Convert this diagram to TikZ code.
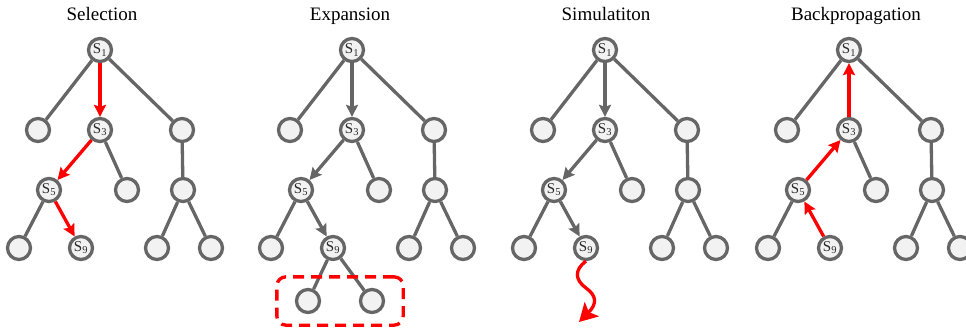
\documentclass[tikz,border=0pt]{standalone}
\usepackage{fontspec}
\setmainfont{Liberation Serif}
\usetikzlibrary{arrows.meta,fit}

\definecolor{edgegray}{HTML}{666666}
\definecolor{nodefill}{HTML}{F2F2F2}
\definecolor{labeltext}{HTML}{2A2A2A}
\definecolor{pathred}{HTML}{FF0000}

\tikzset{
  state/.style={circle, draw=edgegray, fill=nodefill, line width=3.3pt,
    minimum size=23pt, inner sep=0pt, text=labeltext,
    font=\fontsize{15}{15}\selectfont},
  edge/.style={draw=edgegray, line width=3.3pt},
  grayarrow/.style={edge, -{Stealth[length=12pt,width=12pt,inset=2pt]}},
  redarrow/.style={draw=pathred, line width=3.3pt,
    -{Stealth[length=12pt,width=12pt,inset=2pt]}},
  paneltitle/.style={anchor=base, text=black, font=\fontsize{19}{22}\selectfont},
  expandbox/.style={draw=pathred, line width=3.3pt, dash pattern=on 11pt off 7pt,
    rounded corners=9pt, inner xsep=18pt, inner ysep=11pt}
}

% One search tree; #1 = name prefix, #2 = x of the root
\newcommand{\mctstree}[2]{%
  \node[state] (#1r)  at (#2,50)      {S\textsubscript{1}};
  \node[state] (#1a)  at ({#2-62},130) {};
  \node[state] (#1s3) at (#2,130)     {S\textsubscript{3}};
  \node[state] (#1b)  at ({#2+82},130) {};
  \node[state] (#1s5) at ({#2-51},190) {S\textsubscript{5}};
  \node[state] (#1c)  at ({#2+27},190) {};
  \node[state] (#1d)  at ({#2+83},190) {};
  \node[state] (#1e)  at ({#2-81},248) {};
  \node[state] (#1s9) at ({#2-19},248) {S\textsubscript{9}};
  \node[state] (#1f)  at ({#2+57},248) {};
  \node[state] (#1g)  at ({#2+111},248) {};
  \draw[edge] (#1r) -- (#1a);
  \draw[edge] (#1r) -- (#1b);
  \draw[edge] (#1s3) -- (#1c);
  \draw[edge] (#1b) -- (#1d);
  \draw[edge] (#1s5) -- (#1e);
  \draw[edge] (#1d) -- (#1f);
  \draw[edge] (#1d) -- (#1g);
}

\begin{document}
\begin{tikzpicture}[x=1pt, y=-1pt]
  \useasboundingbox (0,0) rectangle (966,334);

  % Titles
  \node[paneltitle] (t1) at (102,21) {Selection};
  \node[paneltitle] (t2) at (350,21) {Expansion};
  \node[paneltitle] (t3) at (606,21) {Simulatiton};
  \node[paneltitle] (t4) at (856,21) {Backpropagation};

  % Selection
  \mctstree{p}{100}
  \draw[redarrow] (pr) -- (ps3);
  \draw[redarrow] (ps3) -- (ps5);
  \draw[redarrow] (ps5) -- (ps9);

  % Expansion
  \mctstree{q}{352}
  \draw[grayarrow] (qr) -- (qs3);
  \draw[grayarrow] (qs3) -- (qs5);
  \draw[grayarrow] (qs5) -- (qs9);
  \node[state] (qh) at (308,301) {};
  \node[state] (qi) at (372,301) {};
  \draw[edge] (qs9) -- (qh);
  \draw[edge] (qs9) -- (qi);
  \node[expandbox, fit=(qh)(qi)] (qbox) {};

  % Simulation
  \mctstree{u}{605}
  \draw[grayarrow] (ur) -- (us3);
  \draw[grayarrow] (us3) -- (us5);
  \draw[grayarrow] (us5) -- (us9);
  \coordinate (uend) at (579,322);
  \draw[draw=pathred, line width=3.3pt,
        -{Stealth[length=18pt,width=20pt,inset=4pt]}]
    (us9.south) .. controls (574,270) and (575,280) .. (586,288)
    .. controls (597,296) and (597,304) .. (uend);

  % Backpropagation
  \mctstree{v}{849}
  \draw[redarrow] (vs3) -- (vr);
  \draw[redarrow] (vs5) -- (vs3);
  \draw[redarrow] (vs9) -- (vs5);
\end{tikzpicture}
\end{document}
